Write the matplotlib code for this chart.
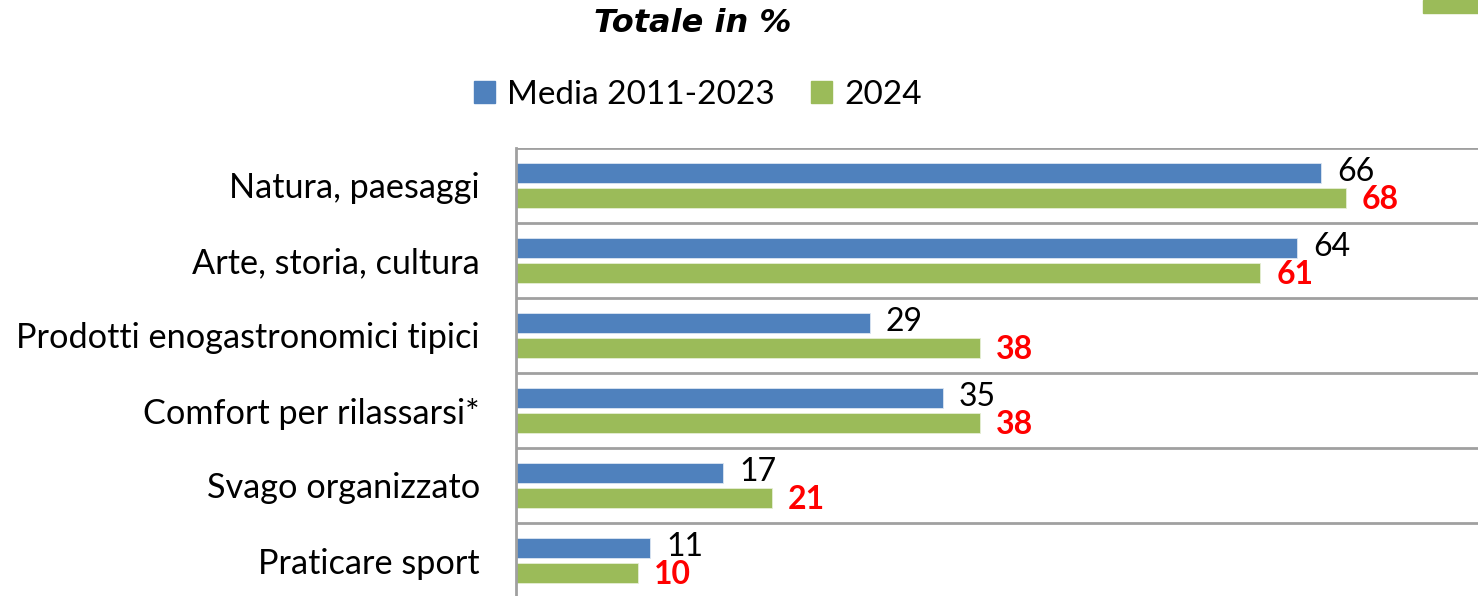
import numpy as np
import matplotlib.pyplot as plt
from matplotlib.patches import Rectangle, Patch

# Data
categories = ["Natura, paesaggi", "Arte, storia, cultura",
              "Prodotti enogastronomici tipici", "Comfort per rilassarsi*",
              "Svago organizzato", "Praticare sport"]
media_2011_2023 = [66, 64, 29, 35, 17, 11]
anno_2024 = [68, 61, 38, 38, 21, 10]
series_names = ["Media 2011-2023", "2024"]

blue = "#4F81BD"
green = "#9BBB59"
grid_col = "#A0A0A0"
font = ["Lato", "DejaVu Sans"]

fig = plt.figure(figsize=(14.78, 5.96), dpi=100)
ax = fig.add_axes([516 / 1478, 0, 962 / 1478, 448 / 596])

y = np.arange(len(categories))
h = 0.267
off = 0.167
b1 = ax.barh(y - off, media_2011_2023, height=h, color=blue,
             edgecolor="#DCE6F2", linewidth=0.6)
b2 = ax.barh(y + off, anno_2024, height=h, color=green,
             edgecolor="#E6EED5", linewidth=0.6)

# Value labels
for yy, v in zip(y - off, media_2011_2023):
    ax.annotate(str(v), (v, yy), xytext=(11.5, 0.5), textcoords="offset points",
                ha="left", va="center", fontsize=23, color="black", family=font)
for yy, v in zip(y + off, anno_2024):
    ax.annotate(str(v), (v, yy), xytext=(11.5, -1), textcoords="offset points",
                ha="left", va="center", fontsize=23, color="#FF0000",
                fontweight="bold", family=font)

ax.set_xlim(0, 962 / 12.2)
ax.set_ylim(5.5 - 2 / 75, -0.5)

# Category separators
for b in np.arange(-0.5, len(categories), 1.0):
    ax.axhline(b, color=grid_col, linewidth=2, zorder=0)

ax.set_yticks(y)
ax.set_yticklabels(categories, fontsize=24.7, family=font)
ax.tick_params(axis="y", length=0, pad=26)
ax.set_xticks([])
for s in ["top", "right", "bottom"]:
    ax.spines[s].set_visible(False)
ax.spines["left"].set_color(grid_col)
ax.spines["left"].set_linewidth(2)

# Title and legend
fig.text(693 / 1478, 1 - 24 / 596, "Totale in %", ha="center", va="center",
         fontsize=23, fontweight="bold", style="italic", family="DejaVu Sans")
handles = [Patch(color=blue), Patch(color=green)]
fig.legend(handles, series_names, loc="center",
           bbox_to_anchor=(698 / 1478, 1 - 95 / 596), ncol=2, frameon=False,
           prop={"family": font, "size": 24}, handlelength=0.63,
           handleheight=0.63, handletextpad=0.35, columnspacing=1.1)

# Small green block at top right corner
fig.patches.append(Rectangle((1423 / 1478, 1 - 13 / 596), 55 / 1478, 13 / 596,
                             transform=fig.transFigure, color=green))

fig.savefig("out.png", dpi=100)
